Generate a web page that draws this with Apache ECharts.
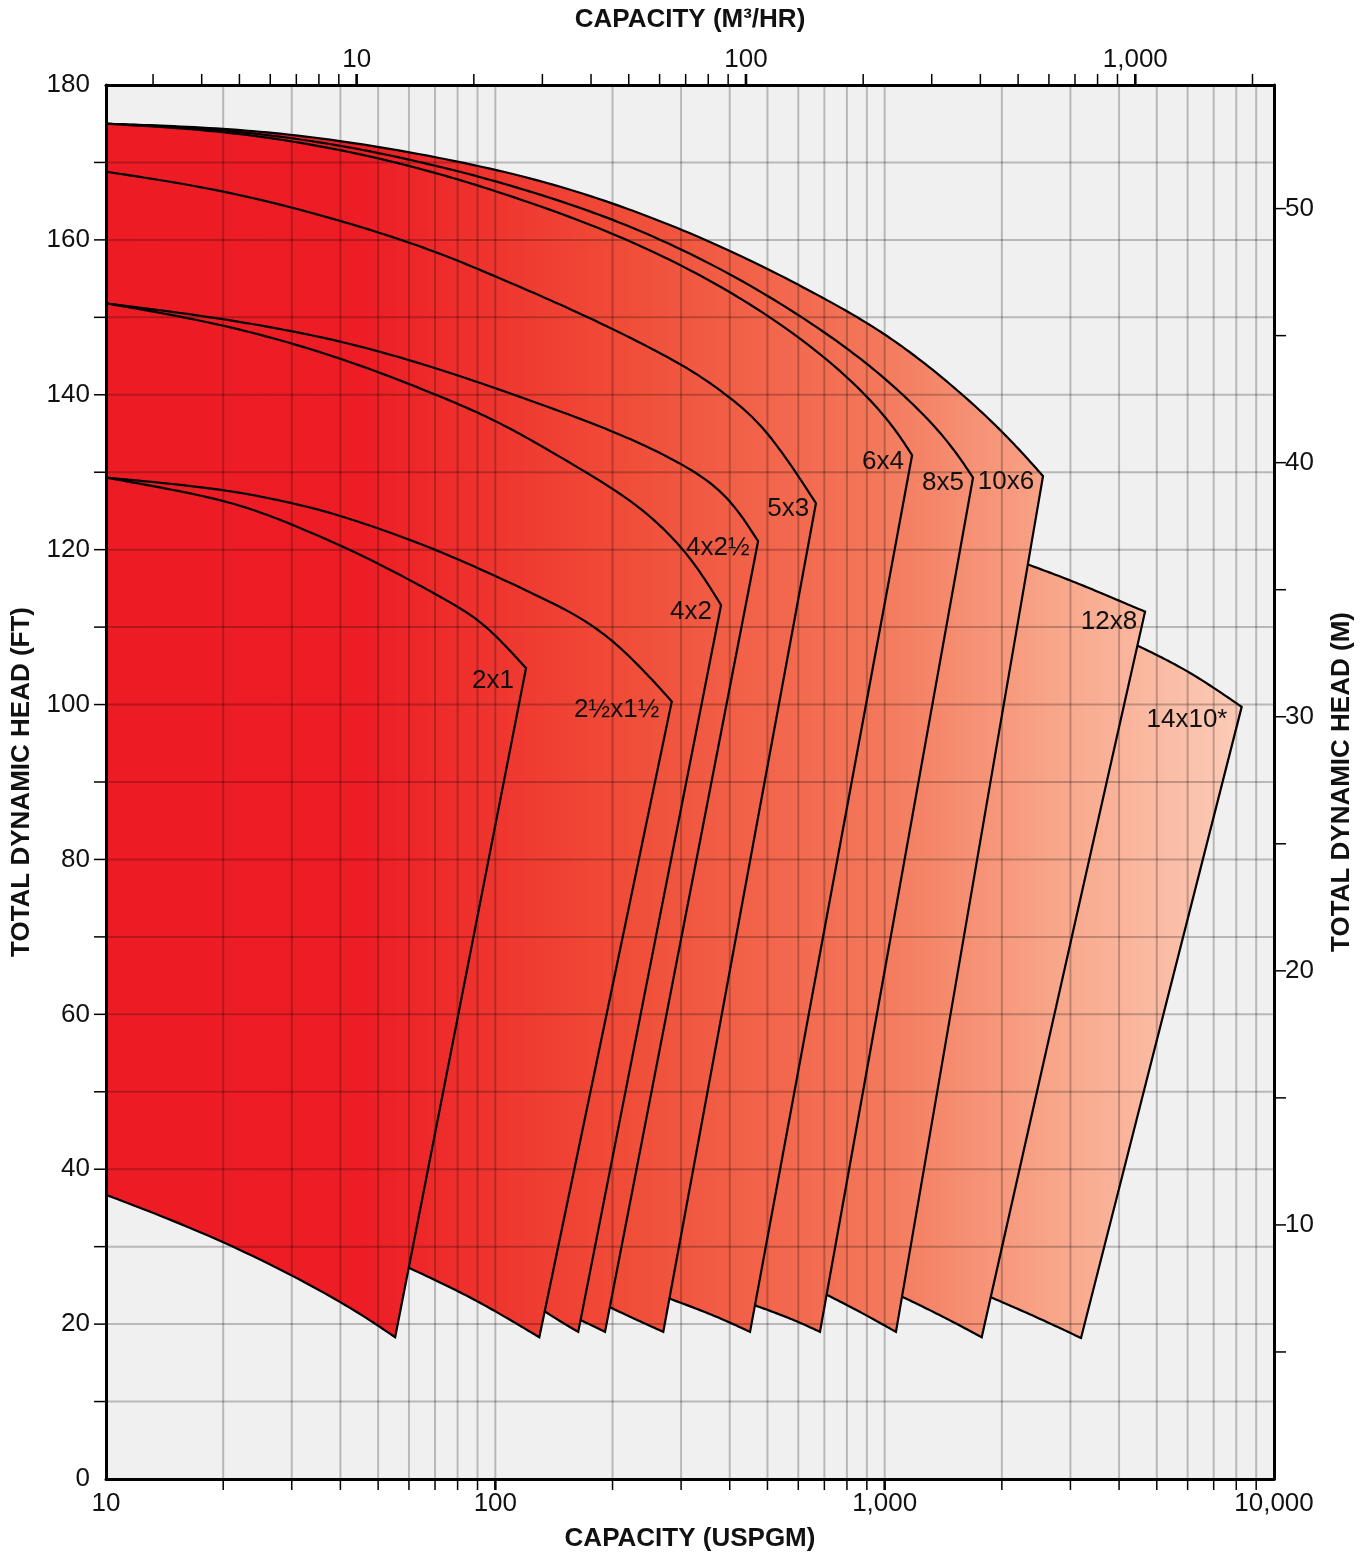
<!DOCTYPE html>
<html><head><meta charset="utf-8">
<script src="https://cdn.jsdelivr.net/npm/echarts@6/dist/echarts.min.js"></script>
<style>html,body{margin:0;padding:0;background:#fff}#c{width:1370px;height:1557px}</style>
</head><body><div id="c"></div>
<script>
// ---------------- DATA (capacity in USGPM, head in ft) ----------------
const pumpNames = ['14x10*', '12x8', '10x6', '8x5', '6x4', '5x3', '4x2½', '4x2', '2½x1½', '2x1'];

const head2x1   = [[10,129.3],[20,126.6],[28.5,123.8],[46.3,119.2],[75.1,113.5],[91.3,110.9],[107.2,107.4],[119.9,104.7]];
const min2x1    = [[55.3,18.3],[40,23.1],[20,30.9],[10,36.7]];

const head2h1h  = [[10,129.3],[20,127.9],[30.3,126.0],[39.9,124.5],[72.1,120.0],[135.5,113.5],[165,111.3],[200.9,108.3],[244.8,104.0],[283.9,100.4]];
const min2h1h   = [[129.7,18.3],[100.8,21.6],[79.6,24.4],[56.9,27.8]];

const head4x2   = [[10,151.8],[20,149.2],[39.9,144.9],[69.2,140.2],[101,136.7],[146.6,132.0],[199.4,128.0],[249.7,124.5],[316.2,119.3],[380,112.85]];
const min4x2    = [[163.3,19.0],[149.5,20.1],[128.7,22.2]];

const head4x2h  = [[10,151.8],[20,149.9],[39.9,147.1],[69.2,143.6],[101,140.8],[199.4,135.5],[301.6,131.2],[393.7,127.3],[473,121.1]];
const min4x2h   = [[191.3,19.0],[178.5,19.75],[159.3,20.9]];

const head5x3   = [[10,168.8],[20,166.5],[39.9,162.6],[69.2,158.7],[101,155.2],[165,150.6],[301.6,144.1],[393.7,140.0],[498.6,135.7],[666,126.0]];
const min5x3    = [[270,19.0],[226,20.75],[189,22.6]];

const head6x4   = [[10,175.0],[20,174.15],[39.9,171.8],[69.2,168.8],[101,166.3],[199.4,161.15],[393.7,153.9],[694.4,145.4],[1002,137.6],[1176,132.2]];
const min6x4    = [[451,19.0],[363,21.2],[269.6,23.6]];

const head8x5   = [[10,175.0],[20,174.35],[39.9,172.35],[69.2,169.7],[101,167.6],[199.4,163.0],[393.7,156.1],[694.4,148.4],[1002,142.3],[1412,135.1],[1686,129.3]];
const min8x5    = [[682,19.0],[571,20.8],[448,22.7]];

const head10x6  = [[10,175.0],[20,174.5],[39.9,173.0],[101,169.3],[199.4,165.0],[393.7,159.0],[694.4,152.6],[1002,148.0],[1412,142.3],[1998,135.5],[2551,129.5]];
const min10x6   = [[1069,19.0],[865,21.6],[678,24.3]];

const head12x8  = [[2162,118.7],[2992,116.1],[3793,113.9],[4664,112.0]];
const min12x8   = [[1775,18.3],[1387,21.2],[1050,24.1]];

const head14x10 = [[4217,108.2],[5302,105.8],[6456,103.4],[8260,99.7]];
const min14x10  = [[3194,18.2],[2462,20.9],[1789,23.9]];

// label anchor (gpm, ft) for each pump, same order as pumpNames
const labelAnchors = [[5977,98.0],[3769,110.7],[2049,128.7],[1412,128.6],[990,131.3],[565,125.3],[373,120.2],[318,112.0],[205,99.3],[98.6,103.0]];

// axis ticks / grid values
const vGridGpm  = [20,30,40,50,60,70,80,90,100,200,300,400,500,600,700,800,900,1000,2000,3000,4000,5000,6000,7000,8000,9000];
const majorGpm  = [100,1000];
const topTicksM3 = [3,4,5,6,7,8,9,10,20,30,40,50,60,70,80,90,100,200,300,400,500,600,700,800,900,1000,2000];
const majorM3   = [10,100,1000];
const hGridFt   = [10,20,30,40,50,60,70,80,90,100,110,120,130,140,150,160,170];
const rightTicksM = [5,10,15,20,25,30,35,40,45,50];

const GPM_MIN = 10, GPM_MAX = 10000, FT_MIN = 0, FT_MAX = 180;
const M3H_PER_GPM = 0.22712, M_PER_FT = 0.3048;
const HIDDEN_CLOSE_FT = 60; // hidden closing point of a fill (covered by smaller pumps)

// ---------------- CHART ----------------
const heads = [head14x10, head12x8, head10x6, head8x5, head6x4, head5x3, head4x2h, head4x2, head2h1h, head2x1];
const mins  = [min14x10, min12x8, min10x6, min8x5, min6x4, min5x3, min4x2h, min4x2, min2h1h, min2x1];

const FONT = '"Liberation Sans", Arial, Helvetica, sans-serif';

// clamped uniform cubic B-spline through the read points (smooth drawing of the curve)
function bspline(P, n) {
  if (P.length < 3) return P.slice();
  const f = P[0], l = P[P.length - 1];
  const Q = [f, f].concat(P, [l, l]);
  const out = [];
  for (let i = 0; i < Q.length - 3; i++) {
    const a = Q[i], b = Q[i+1], c = Q[i+2], d = Q[i+3];
    for (let k = (i === 0 ? 0 : 1); k <= n; k++) {
      const t = k / n, t2 = t * t, t3 = t2 * t;
      const b0 = (1 - t) * (1 - t) * (1 - t) / 6;
      const b1 = (3 * t3 - 6 * t2 + 4) / 6;
      const b2 = (-3 * t3 + 3 * t2 + 3 * t + 1) / 6;
      const b3 = t3 / 6;
      out.push([b0*a[0] + b1*b[0] + b2*c[0] + b3*d[0], b0*a[1] + b1*b[1] + b2*c[1] + b3*d[1]]);
    }
  }
  return out;
}

function gradientFor(api) {
  const x0 = api.coord([GPM_MIN, 90])[0];
  const x1 = api.coord([GPM_MAX, 90])[0];
  return new echarts.graphic.LinearGradient(x0, 0, x1, 0, [
    { offset: 0, color: '#ED1C24' },
    { offset: 0.22, color: '#ED1D25' },
    { offset: 0.45, color: '#F04E39' },
    { offset: 0.65, color: '#F37558' },
    { offset: 0.82, color: '#F8A88C' },
    { offset: 1, color: '#FDD2C0' }
  ], true);
}

const series = [];
pumpNames.forEach((name, i) => {
  series.push({
    type: 'custom', name: name, xAxisIndex: 0, yAxisIndex: 0, clip: false, z: 2,
    silent: true, data: [[100, 50]],
    renderItem: function (params, api) {
      const top = bspline(heads[i].map(p => api.coord(p)), 16);
      const bot = bspline(mins[i].map(p => api.coord(p)), 16);
      const line = top.concat(bot);
      const fill = line.slice();
      const startsLeft = heads[i][0][0] === GPM_MIN;
      const endsLeft = mins[i][mins[i].length - 1][0] === GPM_MIN;
      if (startsLeft && !endsLeft) fill.push(api.coord([GPM_MIN, HIDDEN_CLOSE_FT]));
      return {
        type: 'group',
        children: [
          { type: 'polygon', shape: { points: fill }, style: { fill: gradientFor(api), stroke: null } },
          { type: 'polyline', shape: { points: line }, style: { stroke: '#000', lineWidth: 2.2, fill: null, lineJoin: 'miter', miterLimit: 10 } }
        ]
      };
    }
  });
});

// grid lines on top of the fills, plus bottom / left ticks
series.push({
  type: 'custom', xAxisIndex: 0, yAxisIndex: 0, clip: false, z: 3, silent: true, data: [[100, 50]],
  renderItem: function (params, api) {
    const ch = [];
    const yT = api.coord([GPM_MIN, FT_MAX])[1], yB = api.coord([GPM_MIN, FT_MIN])[1];
    const xL = api.coord([GPM_MIN, 0])[0], xR = api.coord([GPM_MAX, 0])[0];
    vGridGpm.forEach(v => {
      const x = api.coord([v, 0])[0];
      ch.push({ type: 'line', shape: { x1: x, y1: yT, x2: x, y2: yB }, style: { stroke: 'rgba(0,0,0,0.23)', lineWidth: 2 } });
    });
    hGridFt.forEach(v => {
      const y = api.coord([GPM_MIN, v])[1];
      ch.push({ type: 'line', shape: { x1: xL, y1: y, x2: xR, y2: y }, style: { stroke: 'rgba(0,0,0,0.23)', lineWidth: 2 } });
    });
    vGridGpm.forEach(v => {
      const x = api.coord([v, 0])[0];
      const maj = majorGpm.indexOf(v) >= 0;
      ch.push({ type: 'line', shape: { x1: x, y1: yB, x2: x, y2: yB + 11 }, style: { stroke: '#000', lineWidth: maj ? 2.6 : 1.5 } });
    });
    hGridFt.forEach(v => {
      const y = api.coord([GPM_MIN, v])[1];
      ch.push({ type: 'line', shape: { x1: xL - 12, y1: y, x2: xL, y2: y }, style: { stroke: '#000', lineWidth: 1.5 } });
    });
    return { type: 'group', children: ch };
  }
});

// top axis ticks (m3/hr)
series.push({
  type: 'custom', xAxisIndex: 1, yAxisIndex: 0, clip: false, z: 3, silent: true, data: [[100, 50]],
  renderItem: function (params, api) {
    const ch = [];
    const yT = api.coord([100, FT_MAX])[1];
    topTicksM3.forEach(v => {
      const x = api.coord([v, FT_MAX])[0];
      const maj = majorM3.indexOf(v) >= 0;
      ch.push({ type: 'line', shape: { x1: x, y1: yT - 11, x2: x, y2: yT }, style: { stroke: '#000', lineWidth: maj ? 2.6 : 1.5 } });
    });
    return { type: 'group', children: ch };
  }
});

// right axis ticks (m)
series.push({
  type: 'custom', xAxisIndex: 0, yAxisIndex: 1, clip: false, z: 3, silent: true, data: [[100, 20]],
  renderItem: function (params, api) {
    const ch = [];
    const xR = api.coord([GPM_MAX, 0])[0];
    rightTicksM.forEach(v => {
      const y = api.coord([GPM_MAX, v])[1];
      ch.push({ type: 'line', shape: { x1: xR, y1: y, x2: xR + 12, y2: y }, style: { stroke: '#000', lineWidth: 1.5 } });
    });
    return { type: 'group', children: ch };
  }
});

// pump labels
series.push({
  type: 'custom', xAxisIndex: 0, yAxisIndex: 0, clip: false, z: 5, silent: true, data: [[100, 50]],
  renderItem: function (params, api) {
    const ch = pumpNames.map((n, i) => {
      const p = api.coord(labelAnchors[i]);
      return { type: 'text', x: p[0], y: p[1], style: { text: n, fill: '#111', font: '26px ' + FONT, align: 'center', verticalAlign: 'middle', textAlign: 'center', textVerticalAlign: 'middle' } };
    });
    return { type: 'group', children: ch };
  }
});

const axisLine = { show: true, onZero: false, lineStyle: { color: '#000', width: 3 } };
const labelStyle = { color: '#111', fontSize: 26, fontFamily: FONT };
const nameStyle = { color: '#111', fontSize: 26, fontWeight: 'bold', fontFamily: FONT };

function isPow10(v) { const l = Math.log10(v); return Math.abs(l - Math.round(l)) < 1e-6; }

const option = {
  animation: false,
  backgroundColor: '#fff',
  grid: { left: 106, right: 96, top: 85, bottom: 78, containLabel: false, show: true, backgroundColor: '#F0F0F0', borderWidth: 0 },
  xAxis: [
    { type: 'log', logBase: 10, min: GPM_MIN, max: GPM_MAX, position: 'bottom', z: 10,
      axisLine: axisLine, axisTick: { show: false }, splitLine: { show: false }, minorTick: { show: false },
      axisLabel: Object.assign({ margin: 12, formatter: v => isPow10(v) ? Math.round(v).toLocaleString('en-US') : '' }, labelStyle),
      name: 'CAPACITY (USPGM)', nameLocation: 'middle', nameGap: 47, nameTextStyle: nameStyle },
    { type: 'log', logBase: 10, min: GPM_MIN * M3H_PER_GPM, max: GPM_MAX * M3H_PER_GPM, position: 'top', z: 10,
      axisLine: axisLine, axisTick: { show: false }, splitLine: { show: false }, minorTick: { show: false },
      axisLabel: Object.assign({ margin: 12, formatter: v => (isPow10(v) && v > 5 && v < 2000) ? Math.round(v).toLocaleString('en-US') : '' }, labelStyle),
      name: 'CAPACITY (M³/HR)', nameLocation: 'middle', nameGap: 52, nameTextStyle: nameStyle }
  ],
  yAxis: [
    { type: 'value', min: FT_MIN, max: FT_MAX, interval: 20, position: 'left', z: 10,
      axisLine: axisLine, axisTick: { show: false }, splitLine: { show: false },
      axisLabel: Object.assign({ margin: 16 }, labelStyle),
      name: 'TOTAL DYNAMIC HEAD (FT)', nameLocation: 'middle', nameRotate: 90, nameGap: 71, nameTextStyle: nameStyle },
    { type: 'value', min: 0, max: FT_MAX * M_PER_FT, interval: 10, position: 'right', z: 10,
      axisLine: axisLine, axisTick: { show: false }, splitLine: { show: false },
      axisLabel: Object.assign({ margin: 11, showMaxLabel: false, formatter: v => (v > 0 && Math.abs(v % 10) < 1e-6) ? String(Math.round(v)) : '' }, labelStyle),
      name: 'TOTAL DYNAMIC HEAD (M)', nameLocation: 'middle', nameRotate: 90, nameGap: 55, nameTextStyle: nameStyle }
  ],
  series: series
};

const chart = echarts.init(document.getElementById('c'), null, { renderer: 'canvas' });
chart.setOption(option);
</script>
</body></html>
